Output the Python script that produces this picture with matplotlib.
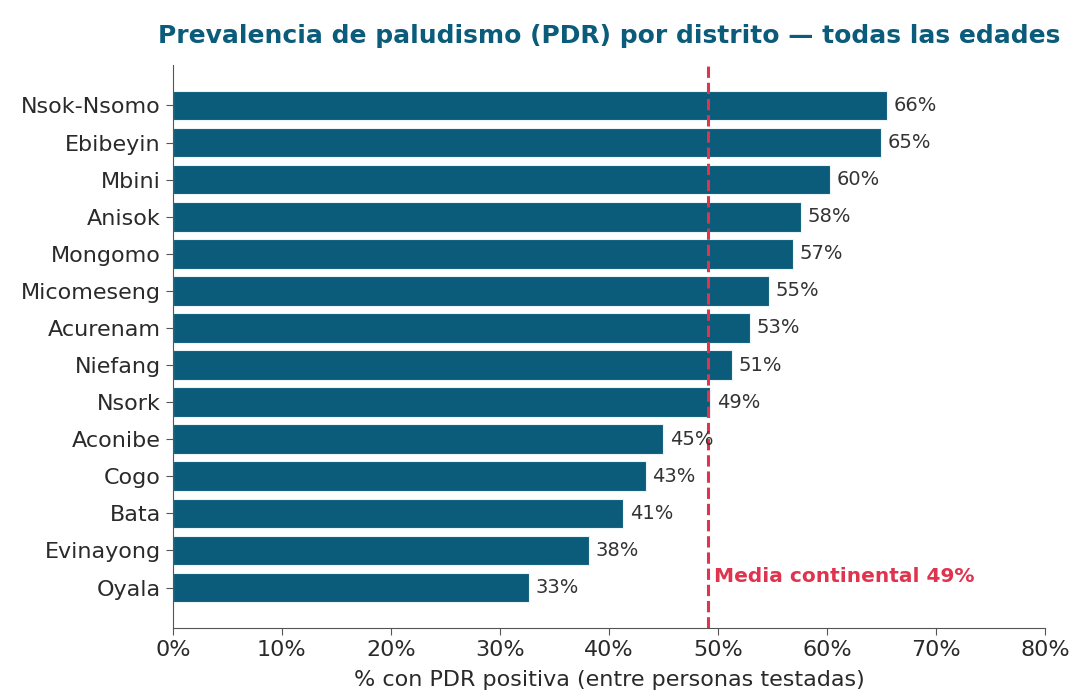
import matplotlib.pyplot as plt
from matplotlib.ticker import PercentFormatter

# Datos: prevalencia PDR por distrito (%)
districts = ['Nsok-Nsomo', 'Ebibeyin', 'Mbini', 'Anisok', 'Mongomo', 'Micomeseng',
             'Acurenam', 'Niefang', 'Nsork', 'Aconibe', 'Cogo', 'Bata',
             'Evinayong', 'Oyala']
prevalence = [65.5, 65.0, 60.3, 57.6, 56.9, 54.7, 52.9, 51.3, 49.3, 45.0,
              43.4, 41.3, 38.2, 32.7]
labels = ['66%', '65%', '60%', '58%', '57%', '55%', '53%', '51%', '49%', '45%',
          '43%', '41%', '38%', '33%']
continental_mean = 49.1

bar_color = '#0b5c7a'
red = '#e0334d'

fig = plt.figure(figsize=(10.8, 6.99), dpi=100)
ax = fig.add_axes([0.160, 0.1016, 0.8076, 0.8054])

y = list(range(len(districts)))
ax.barh(y, prevalence, height=0.8, color=bar_color, edgecolor='#e8f4f8', linewidth=0.8)
ax.invert_yaxis()
ax.set_yticks(y)
ax.set_yticklabels(districts, fontsize=16, color='#2a2a2a')

for yi, v, lab in zip(y, prevalence, labels):
    ax.text(v + 0.6, yi, lab, va='center', ha='left', fontsize=14, color='#333333')

ax.axvline(continental_mean, color=red, linestyle='--', linewidth=2.2)
ax.text(continental_mean + 0.5, 12.7, 'Media continental 49%', color=red,
        fontsize=14.5, fontweight='bold', va='center', ha='left')

ax.set_xlim(0, 80)
ax.set_xticks(range(0, 81, 10))
ax.xaxis.set_major_formatter(PercentFormatter(decimals=0))
ax.tick_params(axis='x', labelsize=16, colors='#2a2a2a')
ax.tick_params(axis='both', color='#555555', length=5)
ax.set_xlabel('% con PDR positiva (entre personas testadas)', fontsize=16, color='#2a2a2a',
              labelpad=7)

ax.spines['top'].set_visible(False)
ax.spines['right'].set_visible(False)
ax.spines['left'].set_color('#555555')
ax.spines['bottom'].set_color('#555555')

ax.set_title('Prevalencia de paludismo (PDR) por distrito \u2014 todas las edades',
             fontsize=18, fontweight='bold', color='#0b5c7a', pad=16)

fig.savefig('out.png', dpi=100, facecolor='white')
